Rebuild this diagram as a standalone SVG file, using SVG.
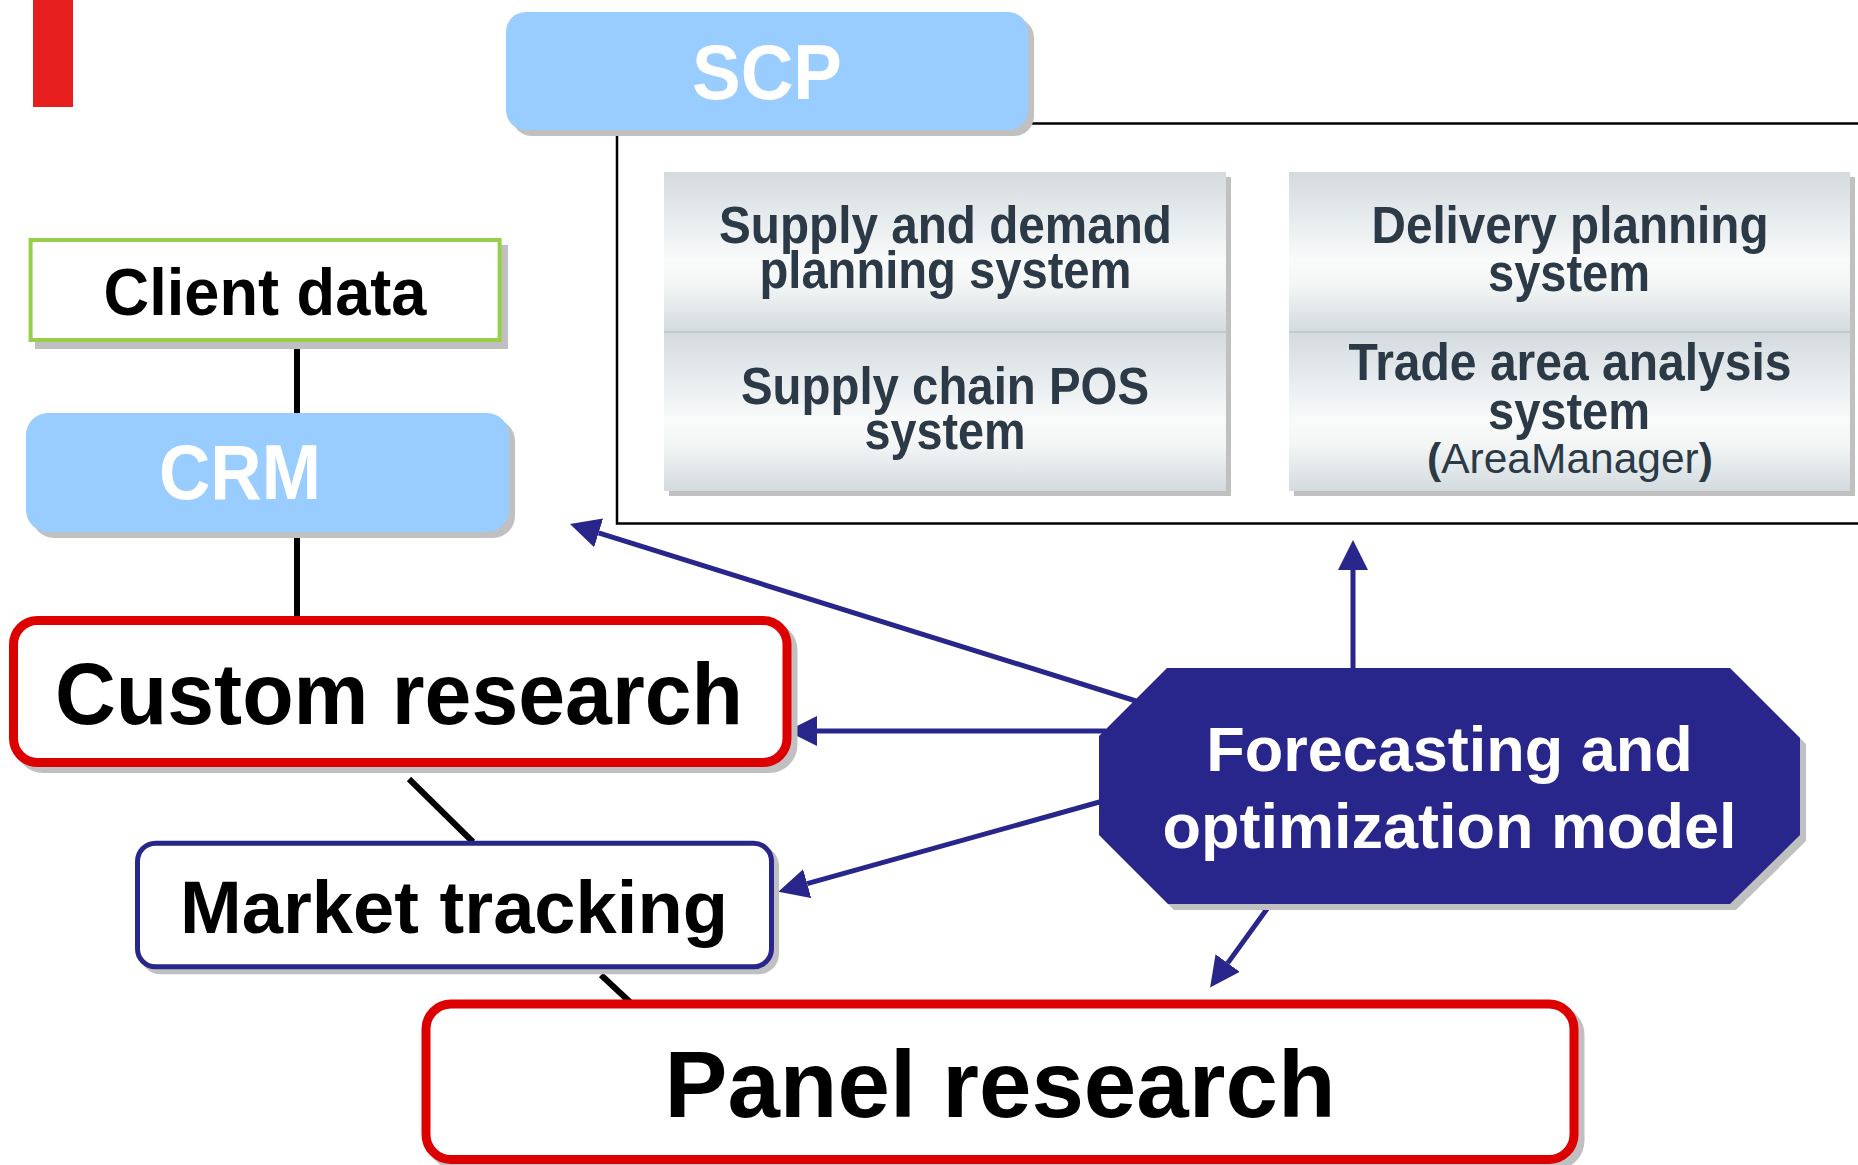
<svg xmlns="http://www.w3.org/2000/svg" width="1858" height="1165" viewBox="0 0 1858 1165">
<style>
  .b { font-family: "Liberation Sans", Arial, sans-serif; font-weight: bold; text-anchor: middle; }
  .w { fill: #ffffff; }
  .k { fill: #000000; }
  .s { fill: #2b3a46; font-size: 51px; }
  .sh { fill: #c0c0c0; }
  .nav { stroke: #28258b; stroke-width: 5; fill: none; }
  .blk { stroke: #000000; stroke-width: 6; fill: none; }
</style>
<defs>
  <marker id="ah" markerUnits="userSpaceOnUse" markerWidth="30" markerHeight="30" refX="0" refY="15" orient="auto" viewBox="0 0 30 30">
    <path d="M0,0 L30,15 L0,30 z" fill="#28258b"/>
  </marker>
  <linearGradient id="cell" x1="0" y1="0" x2="0" y2="1">
    <stop offset="0" stop-color="#d3dbdf"/>
    <stop offset="0.55" stop-color="#f9fafa"/>
    <stop offset="0.7" stop-color="#f4f6f6"/>
    <stop offset="1" stop-color="#d3dbde"/>
  </linearGradient>
</defs>
<rect width="1858" height="1165" fill="#ffffff"/>

<rect id="accent" x="33" y="0" width="40" height="107" fill="#e61e1e"/>

<g id="scp-frame">
  <rect x="617" y="123.5" width="1260" height="400" fill="none" stroke="#000000" stroke-width="2.5"/>
</g>

<g id="connectors">
  <line class="blk" x1="297" y1="342" x2="297" y2="415"/>
  <line class="blk" x1="297" y1="530" x2="297" y2="620"/>
  <line class="blk" x1="409" y1="779" x2="473" y2="842"/>
  <line class="blk" x1="601" y1="975" x2="631" y2="1003"/>
  <line class="nav" x1="1136" y1="701" x2="598.6" y2="532.9" marker-end="url(#ah)"/>
  <line class="nav" x1="1106" y1="731" x2="817" y2="731" marker-end="url(#ah)"/>
  <line class="nav" x1="1103" y1="801" x2="807.2" y2="883.7" marker-end="url(#ah)"/>
  <line class="nav" x1="1353" y1="672" x2="1353" y2="570" marker-end="url(#ah)"/>
  <line class="nav" x1="1272" y1="902" x2="1227.7" y2="963.1" marker-end="url(#ah)"/>
</g>

<g id="scp">
  <rect class="sh" x="512" y="18" width="522" height="118" rx="20"/>
  <rect x="506" y="12" width="522" height="118" rx="20" fill="#99ccff"/>
  <text class="b w" x="767" y="99" font-size="77" textLength="150" lengthAdjust="spacingAndGlyphs">SCP</text>
</g>

<g id="panel-left">
  <rect class="sh" x="669" y="177" width="562" height="319"/>
  <rect x="664" y="172" width="562" height="160" fill="url(#cell)"/>
  <rect x="664" y="332" width="562" height="159" fill="url(#cell)"/>
  <line x1="664" y1="332" x2="1226" y2="332" stroke="#bcc4c8" stroke-width="1.5"/>
  <text class="b s" x="945.5" y="243" textLength="453" lengthAdjust="spacingAndGlyphs">Supply and demand</text>
  <text class="b s" x="945.5" y="288" textLength="372" lengthAdjust="spacingAndGlyphs">planning system</text>
  <text class="b s" x="945" y="404" textLength="408" lengthAdjust="spacingAndGlyphs">Supply chain POS</text>
  <text class="b s" x="945" y="449" textLength="161" lengthAdjust="spacingAndGlyphs">system</text>
</g>

<g id="panel-right">
  <rect class="sh" x="1294" y="177" width="561" height="319"/>
  <rect x="1289" y="172" width="561" height="160" fill="url(#cell)"/>
  <rect x="1289" y="332" width="561" height="159" fill="url(#cell)"/>
  <line x1="1289" y1="332" x2="1850" y2="332" stroke="#bcc4c8" stroke-width="1.5"/>
  <text class="b s" x="1570" y="243" textLength="397" lengthAdjust="spacingAndGlyphs">Delivery planning</text>
  <text class="b s" x="1569" y="290.5" textLength="162" lengthAdjust="spacingAndGlyphs">system</text>
  <text class="b s" x="1570" y="380" textLength="443" lengthAdjust="spacingAndGlyphs">Trade area analysis</text>
  <text class="b s" x="1569" y="429" textLength="162" lengthAdjust="spacingAndGlyphs">system</text>
  <text x="1570" y="473" font-family="Liberation Sans, Arial, sans-serif" font-size="42.5" text-anchor="middle" fill="#2b3a46"><tspan font-weight="bold">(</tspan>AreaManager<tspan font-weight="bold">)</tspan></text>
</g>

<g id="client-data">
  <rect class="sh" x="37" y="247" width="469" height="100" stroke="#c0c0c0" stroke-width="4"/>
  <rect x="30.6" y="240" width="469" height="100" fill="#ffffff" stroke="#98cf4a" stroke-width="4"/>
  <text class="b k" x="265" y="315" font-size="66" textLength="323" lengthAdjust="spacingAndGlyphs">Client data</text>
</g>

<g id="crm">
  <rect class="sh" x="32" y="419" width="483" height="119" rx="22"/>
  <rect x="26" y="413" width="483" height="119" rx="22" fill="#99ccff"/>
  <text class="b w" x="240" y="499" font-size="77" textLength="162" lengthAdjust="spacingAndGlyphs">CRM</text>
</g>

<g id="custom-research">
  <rect class="sh" x="19.5" y="626.5" width="773.5" height="142" rx="24" stroke="#c0c0c0" stroke-width="9"/>
  <rect x="13.5" y="620.5" width="773.5" height="142" rx="24" fill="#ffffff" stroke="#dc0000" stroke-width="9"/>
  <text class="b k" x="399" y="724" font-size="88" textLength="688" lengthAdjust="spacingAndGlyphs">Custom research</text>
</g>

<g id="market-tracking">
  <rect class="sh" x="142.5" y="848.2" width="634" height="123.6" rx="18" stroke="#c0c0c0" stroke-width="5"/>
  <rect x="137.5" y="843.2" width="634" height="123.6" rx="18" fill="#ffffff" stroke="#28258b" stroke-width="5"/>
  <text class="b k" x="454" y="933" font-size="75" textLength="548" lengthAdjust="spacingAndGlyphs">Market tracking</text>
</g>

<g id="panel-research">
  <rect class="sh" x="432" y="1010" width="1148" height="155.5" rx="25" stroke="#c0c0c0" stroke-width="9"/>
  <rect x="426" y="1004" width="1148" height="155.5" rx="25" fill="#ffffff" stroke="#dc0000" stroke-width="9"/>
  <text class="b k" x="1000" y="1117" font-size="94" textLength="671" lengthAdjust="spacingAndGlyphs">Panel research</text>
</g>

<g id="forecasting-model">
  <polygon class="sh" points="1173,674 1736,674 1806,744 1806,841 1736,910 1174,910 1105,841 1105,742"/>
  <polygon points="1167,668 1730,668 1800,738 1800,835 1730,904 1168,904 1099,835 1099,736" fill="#28258b"/>
  <text class="b w" x="1449.5" y="771" font-size="63">Forecasting and</text>
  <text class="b w" x="1449.5" y="848" font-size="63">optimization model</text>
</g>
</svg>
